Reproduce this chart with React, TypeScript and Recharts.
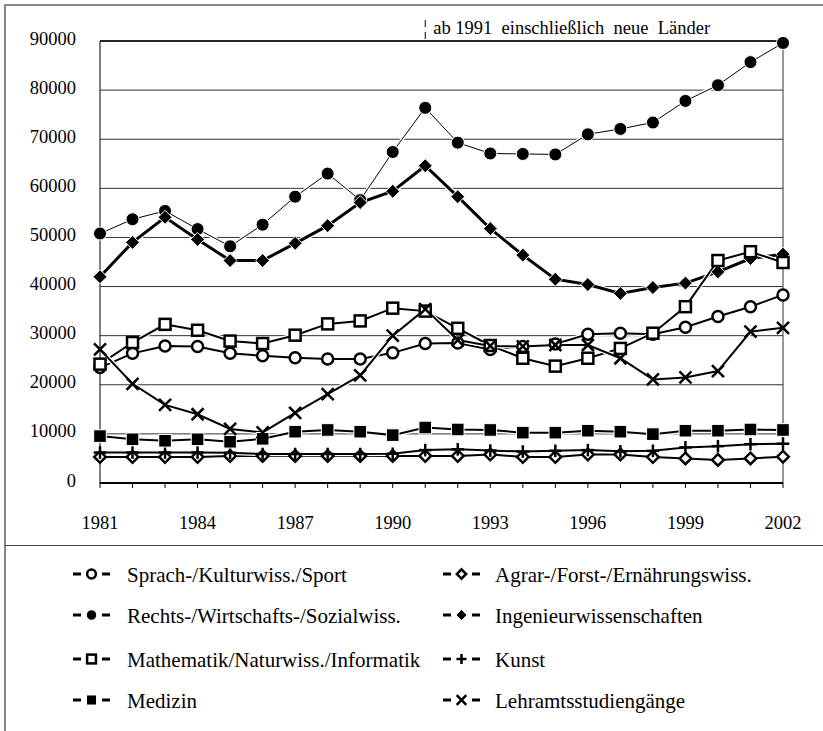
import React from 'react';
import { LineChart, Line, XAxis, YAxis, CartesianGrid, ReferenceLine } from 'recharts';

const years = [1981, 1982, 1983, 1984, 1985, 1986, 1987, 1988, 1989, 1990, 1991, 1992, 1993, 1994, 1995, 1996, 1997, 1998, 1999, 2000, 2001, 2002];
const labelYears = [1981, 1984, 1987, 1990, 1993, 1996, 1999, 2002];
const yTicks = [0, 10000, 20000, 30000, 40000, 50000, 60000, 70000, 80000, 90000];

const sprach = [23500, 26400, 27900, 27800, 26400, 25900, 25500, 25250, 25250, 26500, 28400, 28500, 27200, 27800, 28300, 30300, 30500, 30300, 31700, 33900, 35900, 38300];
const agrar = [5300, 5300, 5300, 5300, 5500, 5500, 5500, 5500, 5500, 5500, 5500, 5500, 5800, 5300, 5300, 5800, 5800, 5300, 5000, 4700, 5000, 5350];
const rechts = [50800, 53700, 55400, 51700, 48200, 52600, 58300, 63000, 57600, 67400, 76400, 69300, 67100, 67000, 66900, 71000, 72100, 73400, 77800, 81000, 85700, 89600];
const ingenieur = [42000, 49000, 54100, 49600, 45300, 45300, 48800, 52400, 57100, 59400, 64600, 58300, 51800, 46400, 41500, 40400, 38600, 39800, 40700, 43000, 45700, 46600];
const mathe = [24200, 28600, 32300, 31100, 28900, 28400, 30100, 32400, 33000, 35600, 35000, 31500, 28000, 25400, 23800, 25400, 27400, 30500, 35900, 45300, 47100, 44900];
const kunst = [6200, 6200, 6200, 6200, 6150, 5900, 5900, 5900, 5900, 5950, 6700, 6850, 6600, 6400, 6550, 6700, 6450, 6550, 7250, 7500, 7900, 8000];
const medizin = [9550, 8900, 8600, 8900, 8400, 9000, 10450, 10800, 10450, 9750, 11300, 10900, 10800, 10250, 10250, 10650, 10450, 9950, 10650, 10650, 10900, 10800];
const lehramt = [27200, 20200, 15900, 14000, 11000, 10300, 14300, 18100, 21900, 30000, 35400, 29100, 27900, 27800, 28100, 28100, 25400, 21100, 21500, 22800, 30800, 31600];

type Kind = 'circleOpen' | 'circleFilled' | 'squareOpen' | 'squareFilled' | 'diamondOpen' | 'diamondFilled' | 'plus' | 'cross';

const series: { key: string; name: string; values: number[]; kind: Kind; width: number }[] = [
  { key: 'sprach', name: 'Sprach-/Kulturwiss./Sport', values: sprach, kind: 'circleOpen', width: 2 },
  { key: 'agrar', name: 'Agrar-/Forst-/Ernährungswiss.', values: agrar, kind: 'diamondOpen', width: 2 },
  { key: 'rechts', name: 'Rechts-/Wirtschafts-/Sozialwiss.', values: rechts, kind: 'circleFilled', width: 1 },
  { key: 'ingenieur', name: 'Ingenieurwissenschaften', values: ingenieur, kind: 'diamondFilled', width: 3 },
  { key: 'mathe', name: 'Mathematik/Naturwiss./Informatik', values: mathe, kind: 'squareOpen', width: 2 },
  { key: 'kunst', name: 'Kunst', values: kunst, kind: 'plus', width: 2 },
  { key: 'medizin', name: 'Medizin', values: medizin, kind: 'squareFilled', width: 2 },
  { key: 'lehramt', name: 'Lehramtsstudiengänge', values: lehramt, kind: 'cross', width: 2 },
];

const data = years.map((year, i) => {
  const row: Record<string, number> = { year };
  series.forEach((s) => (row[s.key] = s.values[i]));
  return row;
});

const FONT = '"Liberation Serif", "Times New Roman", serif';

const Marker = ({ kind, cx, cy, s = 1, sw = 2.5 }: { kind: Kind; cx: number; cy: number; s?: number; sw?: number }) => {
  switch (kind) {
    case 'circleOpen':
      return <circle cx={cx} cy={cy} r={5.5 * s} fill="#fff" stroke="#000" strokeWidth={sw} />;
    case 'circleFilled':
      return <circle cx={cx} cy={cy} r={6.5 * s} fill="#000" stroke="#fff" strokeWidth={1} />;
    case 'squareOpen':
      return <rect x={cx - 5.5 * s} y={cy - 5.5 * s} width={11 * s} height={11 * s} fill="#fff" stroke="#000" strokeWidth={sw} />;
    case 'squareFilled':
      return <rect x={cx - 6.3 * s} y={cy - 6.3 * s} width={12.6 * s} height={12.6 * s} fill="#000" stroke="#fff" strokeWidth={1} />;
    case 'diamondOpen': {
      const r = 5.8 * s;
      return <polygon points={`${cx},${cy - r} ${cx + r},${cy} ${cx},${cy + r} ${cx - r},${cy}`} fill="#fff" stroke="#000" strokeWidth={sw} />;
    }
    case 'diamondFilled': {
      const r = 7 * s;
      return <polygon points={`${cx},${cy - r} ${cx + r},${cy} ${cx},${cy + r} ${cx - r},${cy}`} fill="#000" stroke="#fff" strokeWidth={1} />;
    }
    case 'plus': {
      const r = 6.3 * s;
      return (
        <g stroke="#000" strokeWidth={sw}>
          <line x1={cx - r} y1={cy} x2={cx + r} y2={cy} />
          <line x1={cx} y1={cy - r} x2={cx} y2={cy + r} />
        </g>
      );
    }
    case 'cross': {
      const r = 6 * s;
      return (
        <g stroke="#000" strokeWidth={sw}>
          <line x1={cx - r} y1={cy - r} x2={cx + r} y2={cy + r} />
          <line x1={cx - r} y1={cy + r} x2={cx + r} y2={cy - r} />
        </g>
      );
    }
  }
  return null;
};

const makeDot = (kind: Kind) => (props: any) => (
  <Marker key={`${kind}-${props.index}`} kind={kind} cx={props.cx} cy={props.cy} />
);

const XTick = (props: any) => {
  const { x, payload } = props;
  if (!labelYears.includes(payload.value)) return <g />;
  return (
    <text x={x} y={529} textAnchor="middle" fontFamily={FONT} fontSize={18.5} fill="#000">
      {payload.value}
    </text>
  );
};

const YTick = (props: any) => {
  const { y, payload } = props;
  return (
    <text x={76} y={y + 3.5} textAnchor="end" fontFamily={FONT} fontSize={18.5} fill="#000">
      {payload.value}
    </text>
  );
};

const Divider = (props: any) => {
  const { x1, x2, y2 } = props;
  return (
    <g>
      <line x1={x1} y1={20} x2={x2} y2={y2} stroke="#000" strokeWidth={1} strokeDasharray="7 5" />
      <text x={x1 + 8} y={34} fontFamily={FONT} fontSize={18.5} fill="#000" style={{ whiteSpace: 'pre' }}>
        {'ab 1991  einschließlich  neue  Länder'}
      </text>
    </g>
  );
};

// legend layout: symbol centre y per row, symbol / text x per column
const legendRows = [574, 615, 659, 700];
const legendSymX = [73, 443];
const legendTextX = [127, 495];

const App = () => {
  return (
    <div style={{ position: 'absolute', left: 0, top: 0, width: 823, height: 731, background: '#fff' }}>
      <div style={{ position: 'absolute', left: 5, top: 4, right: 0, height: 0, borderTop: '2px solid #888' }} />
      <div style={{ position: 'absolute', left: 4, top: 4, bottom: 0, width: 0, borderLeft: '2px solid #888' }} />
      <div style={{ position: 'absolute', left: 5, top: 545, right: 0, height: 0, borderTop: '1px solid #444' }} />
      <div style={{ position: 'absolute', left: 0, top: 0 }}>
        <LineChart width={823} height={546} data={data} margin={{ top: 41, right: 40, bottom: 33, left: 0 }}>
          <CartesianGrid horizontal vertical={false} stroke="#333" strokeWidth={1} />
          <XAxis
            dataKey="year"
            type="number"
            domain={[1981, 2002]}
            ticks={years}
            interval={0}
            height={30}
            axisLine={{ stroke: '#000', strokeWidth: 2 }}
            tickLine={{ stroke: '#000', strokeWidth: 1 }}
            tickSize={5}
            tick={<XTick />}
          />
          <YAxis
            width={100}
            domain={[0, 90000]}
            ticks={yTicks}
            interval={0}
            axisLine={{ stroke: '#000', strokeWidth: 1 }}
            tickLine={false}
            tick={<YTick />}
          />
          <ReferenceLine y={90000} stroke="#000" strokeWidth={1.5} />
          <ReferenceLine x={2002} stroke="#333" strokeWidth={1} />
          <ReferenceLine x={1991} shape={<Divider />} />
          {series.flatMap((s) => [
            // thin white casing under each line, as in the original export
            <Line
              key={`${s.key}-casing`}
              dataKey={s.key}
              stroke="#fff"
              strokeWidth={s.width + 2.5}
              dot={false}
              activeDot={false}
              legendType="none"
              isAnimationActive={false}
            />,
            <Line
              key={s.key}
              dataKey={s.key}
              name={s.name}
              stroke="#000"
              strokeWidth={s.width}
              dot={makeDot(s.kind)}
              activeDot={false}
              isAnimationActive={false}
            />,
          ])}
        </LineChart>
      </div>
      <svg width={823} height={731} style={{ position: 'absolute', left: 0, top: 0, pointerEvents: 'none' }}>
        {series.map((s, i) => {
          const col = i % 2;
          const cy = legendRows[Math.floor(i / 2)];
          const x0 = legendSymX[col];
          return (
            <g key={s.key}>
              <line x1={x0} y1={cy} x2={x0 + 8} y2={cy} stroke="#000" strokeWidth={3} />
              <line x1={x0 + 29} y1={cy} x2={x0 + 37} y2={cy} stroke="#000" strokeWidth={3} />
              <Marker kind={s.kind} cx={x0 + 18.5} cy={cy} s={0.8} sw={2.5} />
              <text x={legendTextX[col]} y={cy + 7.5} fontFamily={FONT} fontSize={21} fill="#000">
                {s.name}
              </text>
            </g>
          );
        })}
      </svg>
    </div>
  );
};

export default App;
